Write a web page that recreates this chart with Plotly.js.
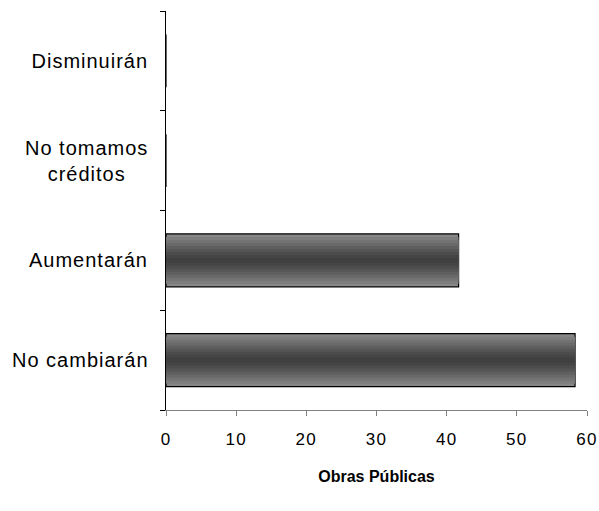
<!DOCTYPE html>
<html>
<head>
<meta charset="utf-8">
<script src="https://cdn.plot.ly/plotly-3.0.1.min.js"></script>
<style>
  body { margin: 0; background: #fff; }
  #chart { width: 599px; height: 511px; }
  /* the original labels are drawn a bit loosely spaced */
  #chart .xtick text { letter-spacing: 1.3px; }
  #chart .annotation-text { letter-spacing: 1px; }
</style>
</head>
<body>
<div id="chart"></div>
<script>
// categories bottom to top, values in percent
const categories = ["No cambiarán", "Aumentarán", "No tomamos<br>créditos", "Disminuirán"];
const values = [58.3, 41.7, 0, 0];
const axisTitle = "Obras Públicas";

// fake the vertical gradient fill: narrower, darker bars stacked on top
const bands = [
    { width: 0.53, color: "#878787", line: 1.2 },
    { width: 0.47, color: "#7d7d7d", line: 0 },
    { width: 0.41, color: "#737373", line: 0 },
    { width: 0.35, color: "#696969", line: 0 },
    { width: 0.29, color: "#5f5f5f", line: 0 },
    { width: 0.23, color: "#555555", line: 0 },
    { width: 0.17, color: "#4c4c4c", line: 0 },
    { width: 0.11, color: "#454545", line: 0 },
    { width: 0.05, color: "#404040", line: 0 }
];

let traces = bands.map((b, i) => ({
    type: "bar",
    orientation: "h",
    x: values,
    y: categories,
    width: b.width,
    marker: {
        color: b.color,
        line: { color: "#000", width: b.line }
    },
    hoverinfo: i == 0 ? "x+y" : "skip",
    showlegend: false
}));

// category labels as annotations so two-line labels can be centred
let labels = categories.map((c) => ({
    xref: "paper", yref: "y",
    x: -0.05, y: c,
    xanchor: "right", yanchor: "middle",
    align: "center",
    text: c,
    showarrow: false,
    font: { size: 20 }
}));

let layout = {
    width: 599, height: 511,
    margin: { l: 166, r: 12, t: 11, b: 101 },
    barmode: "overlay",
    paper_bgcolor: "#fff",
    plot_bgcolor: "#fff",
    font: { family: "Liberation Sans, Arial, sans-serif", size: 16, color: "#000" },
    annotations: labels,
    xaxis: {
        range: [0, 60],
        dtick: 10,
        showgrid: false,
        zeroline: false,
        showline: true,
        linecolor: "#808080",
        linewidth: 1,
        ticks: "outside",
        ticklen: 5,
        tickcolor: "#808080",
        ticklabelstandoff: 9,
        tickfont: { size: 17 },
        title: { text: "<b>" + axisTitle + "</b>", font: { size: 16 }, standoff: 22 }
    },
    yaxis: {
        type: "category",
        categoryorder: "array",
        categoryarray: categories,
        range: [-0.5, 3.5],
        showgrid: false,
        zeroline: false,
        showline: true,
        linecolor: "#000",
        linewidth: 1,
        ticks: "outside",
        tickson: "boundaries",
        ticklen: 5,
        tickcolor: "#000",
        showticklabels: false
    }
};

Plotly.newPlot("chart", traces, layout, { displayModeBar: false, staticPlot: true });
</script>
</body>
</html>
